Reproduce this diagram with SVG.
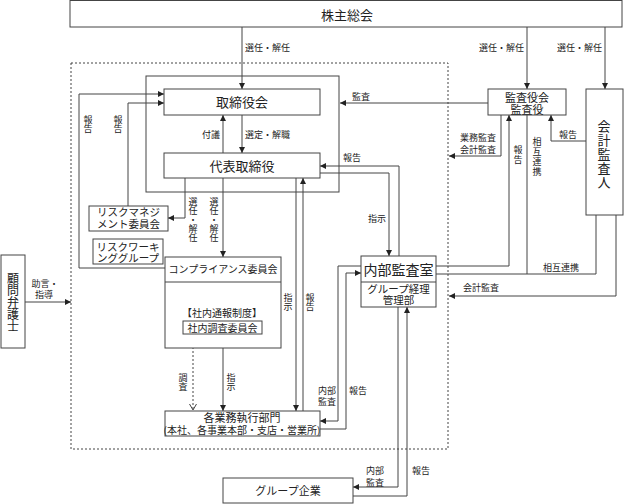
<svg xmlns="http://www.w3.org/2000/svg" width="624" height="504" viewBox="0 0 624 504">
<style>
text{font-family:"Noto Sans CJK JP","Noto Sans CJK SC",sans-serif;fill:#222}
.box{fill:#fff;stroke:#444;stroke-width:1}
.ln{fill:none;stroke:#444;stroke-width:1}
.dot{fill:none;stroke:#444;stroke-width:1;stroke-dasharray:2,2}
.s{font-size:9px}
.m{text-anchor:middle}
.v{writing-mode:vertical-rl;text-orientation:upright}
</style>
<defs>
<marker id="a" markerUnits="userSpaceOnUse" markerWidth="7" markerHeight="6" refX="6" refY="3" orient="auto"><path d="M0,0L6,3L0,6z" fill="#222"/></marker>
<marker id="v" markerUnits="userSpaceOnUse" markerWidth="8" markerHeight="8" refX="6" refY="4" orient="auto"><path d="M0,0.5L6,4L0,7.5" fill="none" stroke="#444"/></marker>
</defs>
<rect class="dot" x="71" y="63" width="377" height="386"/>
<g id="connectors">
<rect class="ln" x="146" y="76" width="193" height="116"/>
<path class="ln" d="M242,27V89" marker-end="url(#a)"/>
<path class="ln" d="M527,27V89" marker-end="url(#a)"/>
<path class="ln" d="M605,27V89" marker-end="url(#a)"/>
<path class="ln" d="M242,115V153" marker-end="url(#a)"/>
<path class="ln" d="M223,153V115" marker-end="url(#a)"/>
<path class="ln" d="M488,103H340" marker-end="url(#a)"/>
<path class="ln" d="M501,115V156H449" marker-end="url(#a)"/>
<path class="ln" d="M436,266H509V115" marker-end="url(#a)"/>
<path class="ln" d="M527,115V274"/>
<path class="ln" d="M436,274H596V215"/>
<path class="ln" d="M586,141H551V115" marker-end="url(#a)"/>
<path class="ln" d="M616,215V296H449" marker-end="url(#a)"/>
<path class="ln" d="M399,256V166H320" marker-end="url(#a)"/>
<path class="ln" d="M320,173H389V256" marker-end="url(#a)"/>
<path class="ln" d="M165,268H79V94H164" marker-end="url(#a)"/>
<path class="ln" d="M128,206V103H164" marker-end="url(#a)"/>
<path class="ln" d="M185,178V218H168" marker-end="url(#a)"/>
<path class="ln" d="M223,178V257" marker-end="url(#a)"/>
<path class="ln" d="M296,178V411" marker-end="url(#a)"/>
<path class="ln" d="M303,411V178" marker-end="url(#a)"/>
<path class="dot" d="M193,335V410" marker-end="url(#v)"/>
<path class="ln" d="M223,348V411" marker-end="url(#a)"/>
<path class="ln" d="M361,266H338V421H320" marker-end="url(#a)"/>
<path class="ln" d="M320,429H346V273H361" marker-end="url(#a)"/>
<path class="ln" d="M398,307V487H353" marker-end="url(#a)"/>
<path class="ln" d="M353,496H407V307" marker-end="url(#a)"/>
<path class="ln" d="M25,302H71" marker-end="url(#a)"/>
</g>
<g id="labels" class="s">
<text x="245" y="50.5">選任・解任</text>
<text x="479" y="50.5">選任・解任</text>
<text x="557" y="50.5">選任・解任</text>
<text x="352" y="99.5">監査</text>
<text class="m"><tspan x="478" y="140.5">業務監査</tspan><tspan x="478" y="152.5">会計監査</tspan></text>
<text class="v" x="518" y="145.5" letter-spacing="1">報告</text>
<text class="v" x="537" y="137.5" letter-spacing="0.7">相互連携</text>
<text x="559" y="137.5">報告</text>
<text x="543" y="270.5">相互連携</text>
<text x="463" y="290.5">会計監査</text>
<text x="343" y="160.5">報告</text>
<text x="368" y="221.5">指示</text>
<text x="202" y="137.5">付議</text>
<text x="245" y="137.5">選定・解職</text>
<text class="v" x="88" y="115.5">報告</text>
<text class="v" x="118" y="115.5">報告</text>
<text class="v" x="193" y="197.5">選任・解任</text>
<text class="v" x="214" y="197.5">選任・解任</text>
<text class="v" x="288" y="293.5">指示</text>
<text class="v" x="310" y="293.5">報告</text>
<text class="v" x="183" y="373.5">調査</text>
<text class="v" x="231" y="373.5">指示</text>
<text class="m"><tspan x="327" y="393.5">内部</tspan><tspan x="327" y="404.5">監査</tspan></text>
<text x="349" y="393.5">報告</text>
<text class="m"><tspan x="375" y="473.5">内部</tspan><tspan x="375" y="485.5">監査</tspan></text>
<text x="412" y="473.5">報告</text>
<text class="m"><tspan x="45" y="286.5">助言・</tspan><tspan x="44" y="297.5">指導</tspan></text>
</g>
<g id="n-shareholders">
<rect class="box" x="70" y="0.5" width="552" height="26.5"/>
<text class="m" x="347" y="20" font-size="13">株主総会</text>
</g>
<g id="n-board">
<rect class="box" x="164" y="89" width="156" height="26"/>
<text class="m" x="242" y="107" font-size="13">取締役会</text>
</g>
<g id="n-rep">
<rect class="box" x="164" y="153" width="156" height="25"/>
<text class="m" x="242" y="171" font-size="13">代表取締役</text>
</g>
<g id="n-auditboard">
<rect class="box" x="488" y="89" width="78" height="26"/>
<text class="m" font-size="11"><tspan x="527" y="101.5">監査役会</tspan><tspan x="527" y="113.5">監査役</tspan></text>
</g>
<g id="n-accountant">
<rect class="box" x="586" y="89" width="37" height="126"/>
<text class="v" x="604" y="119.5" font-size="13" letter-spacing="1">会計監査人</text>
</g>
<g id="n-risk">
<rect class="box" x="89" y="206" width="79" height="25"/>
<text class="m" font-size="10.5"><tspan x="128.5" y="216">リスクマネジ</tspan><tspan x="128.5" y="227.5">メント委員会</tspan></text>
</g>
<g id="n-riskwg">
<rect class="box" x="93" y="239" width="70" height="25"/>
<text class="m" font-size="10.5"><tspan x="128" y="251">リスクワーキ</tspan><tspan x="128" y="261.5">ンググループ</tspan></text>
</g>
<g id="n-compliance">
<rect class="box" x="165" y="257" width="116" height="91"/>
<line class="ln" x1="165" y1="282" x2="281" y2="282"/>
<text class="m" x="223" y="273" font-size="10">コンプライアンス委員会</text>
<text class="m" x="222" y="317" font-size="10">【社内通報制度】</text>
<rect class="box" x="183" y="321" width="79" height="13"/>
<text class="m" x="222.5" y="331.5" font-size="10">社内調査委員会</text>
</g>
<g id="n-depts">
<rect class="box" x="165" y="411" width="155" height="25"/>
<text class="m"><tspan x="242" y="422" font-size="11">各業務執行部門</tspan><tspan x="242" y="434" font-size="10">(本社、各事業本部・支店・営業所)</tspan></text>
</g>
<g id="n-internal">
<rect class="box" x="361" y="256" width="75" height="51"/>
<line class="ln" x1="361" y1="282" x2="436" y2="282"/>
<text class="m" x="398.5" y="274.5" font-size="14">内部監査室</text>
<text class="m" font-size="10.5"><tspan x="398.5" y="292.5">グループ経理</tspan><tspan x="398.5" y="304">管理部</tspan></text>
</g>
<g id="n-group">
<rect class="box" x="223" y="478" width="130" height="25"/>
<text class="m" x="288" y="495" font-size="11">グループ企業</text>
</g>
<g id="n-lawyer">
<rect class="box" x="1" y="255" width="24" height="93"/>
<text class="v" x="13" y="272" font-size="12">顧問弁護士</text>
</g>
</svg>
